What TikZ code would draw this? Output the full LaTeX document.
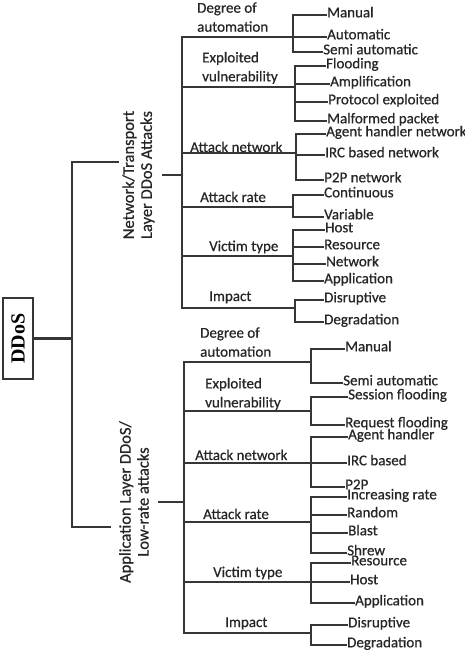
\documentclass[tikz,border=0pt]{standalone}
\usepackage{fontspec}
\setmainfont{Carlito}[FakeBold=0.6]
\newfontfamily\boxfont{Liberation Serif}
\definecolor{ink}{HTML}{262626}
\definecolor{ln}{HTML}{363636}
\newcommand\mkleaf[4]{\node[leaf] (#1) at (#2,#3) {#4};}
\begin{document}
\begin{tikzpicture}[x=1pt,y=-1pt,
  txt/.style={font=\fontsize{15}{19}\selectfont, text=ink, inner sep=0pt},
  leaf/.style={txt, anchor=west, text height=0.66em, text depth=0.2em},
  cat/.style={txt, align=left},
  side/.style={font=\fontsize{16.5}{18}\selectfont, text=ink, rotate=90, align=center, inner sep=0pt},
  wire/.style={draw=ln, line width=1.3pt},
  catwire/.style={draw=ln, line width=1.7pt},
  mainwire/.style={draw=ln, line width=2.6pt}]
\useasboundingbox (0,0) rectangle (465,654);

% root box
\node[draw=ln, line width=2.5pt, minimum width=30pt, minimum height=81pt, inner sep=0pt] (ddos) at (18,338.5)
  {\rotatebox{90}{\boxfont\bfseries\fontsize{20}{20}\selectfont DDoS}};

% two main branches
\node[side] (net) at (138.5,175) {Network/Transport\\Layer DDoS Attacks};
\node[side] (app) at (134,502) {Application Layer DDoS/\\Low-rate attacks};

\coordinate (rootj) at (72,338.5);
\coordinate (spineTop) at (72,162);
\coordinate (spineBot) at (72,527);
\coordinate (netin) at (118,162);
\coordinate (appin) at (110,527);
\draw[mainwire] (ddos.east) -- (rootj);
\draw[mainwire, line cap=rect] (netin) -- (spineTop) -- (spineBot) -- (appin);

% category spines
\coordinate (netout) at (162,175);
\coordinate (tsp) at (182,175);
\coordinate (appout) at (158,502);
\coordinate (bsp) at (184,502);
\draw[catwire] (netout) -- (tsp);
\draw[catwire] (appout) -- (bsp);

% ---- upper taxonomy: categories ----
\node[cat, anchor=south west] (t1) at (197,32) {Degree of\\automation};
\node[cat, anchor=south west] (t2) at (202,84) {Exploited\\vulnerability};
\node[txt, anchor=base west] (t3) at (190,152) {Attack network};
\node[txt, anchor=base west] (t4) at (200,202) {Attack rate};
\node[txt, anchor=base west] (t5) at (209,251) {Victim type};
\node[txt, anchor=base west] (t6) at (209,301) {Impact};

\coordinate (t1j) at (293,37);
\coordinate (t2j) at (295,87);
\coordinate (t3j) at (296,153);
\coordinate (t4j) at (293,207);
\coordinate (t5j) at (293,256);
\coordinate (t6j) at (295,308);
\foreach \j in {t1j,t2j,t3j,t4j,t5j,t6j}
  \draw[catwire] (tsp) |- (\j);

% ---- upper taxonomy: leaves ----
\mkleaf{ta1}{327}{15}{Manual}
\mkleaf{ta2}{327}{37}{Automatic}
\mkleaf{ta3}{323}{52}{Semi automatic}
\mkleaf{tb1}{326}{66}{Flooding}
\mkleaf{tb2}{330}{84}{Amplification}
\mkleaf{tb3}{328}{102}{Protocol exploited}
\mkleaf{tb4}{327}{121}{Malformed packet}
\mkleaf{tc1}{326}{134}{Agent handler network}
\mkleaf{tc2}{325}{155}{IRC based network}
\mkleaf{tc3}{324}{180}{P2P network}
\mkleaf{td1}{324}{195}{Continuous}
\mkleaf{td2}{324}{217}{Variable}
\mkleaf{te1}{325}{230}{Host}
\mkleaf{te2}{324}{247}{Resource}
\mkleaf{te3}{326}{264}{Network}
\mkleaf{te4}{324}{281}{Application}
\mkleaf{tf1}{324}{300}{Disruptive}
\mkleaf{tf2}{324}{322}{Degradation}

\foreach \j/\l in {t1j/ta1,t1j/ta2,t1j/ta3,
                   t2j/tb1,t2j/tb2,t2j/tb3,t2j/tb4,
                   t3j/tc1,t3j/tc2,t3j/tc3,
                   t4j/td1,t4j/td2,
                   t5j/te1,t5j/te2,t5j/te3,t5j/te4,
                   t6j/tf1,t6j/tf2}
  \draw[wire] (\j) |- (\l.west);

% ---- lower taxonomy: categories ----
\node[cat, anchor=south west] (b1) at (200,357) {Degree of\\automation};
\node[cat, anchor=south west] (b2) at (205,410) {Exploited\\vulnerability};
\node[txt, anchor=base west] (b3) at (195,460) {Attack network};
\node[txt, anchor=base west] (b4) at (203,519) {Attack rate};
\node[txt, anchor=base west] (b5) at (213,577) {Victim type};
\node[txt, anchor=base west] (b6) at (225,627) {Impact};

\coordinate (b1j) at (311,362);
\coordinate (b2j) at (311,411);
\coordinate (b3j) at (311,463);
\coordinate (b4j) at (311,522);
\coordinate (b5j) at (311,582);
\coordinate (b6j) at (311,633);
\foreach \j in {b1j,b2j,b3j,b4j,b5j,b6j}
  \draw[catwire] (bsp) |- (\j);

% ---- lower taxonomy: leaves ----
\mkleaf{ba1}{345}{349}{Manual}
\mkleaf{ba2}{343}{383}{Semi automatic}
\mkleaf{bb1}{348}{397}{Session flooding}
\mkleaf{bb2}{345}{425}{Request flooding}
\mkleaf{bc1}{348}{437}{Agent handler}
\mkleaf{bc2}{347}{463}{IRC based}
\mkleaf{bc3}{345}{487}{P2P}
\mkleaf{bd1}{347}{497}{Increasing rate}
\mkleaf{bd2}{347}{515}{Random}
\mkleaf{bd3}{348}{533}{Blast}
\mkleaf{bd4}{347}{553}{Shrew}
\mkleaf{be1}{351}{563}{Resource}
\mkleaf{be2}{350}{582}{Host}
\mkleaf{be3}{355}{603}{Application}
\mkleaf{bf1}{348}{625}{Disruptive}
\mkleaf{bf2}{347}{645}{Degradation}

\foreach \j/\l in {b1j/ba1,b1j/ba2,
                   b2j/bb1,b2j/bb2,
                   b3j/bc1,b3j/bc2,b3j/bc3,
                   b4j/bd1,b4j/bd2,b4j/bd3,b4j/bd4,
                   b5j/be1,b5j/be2,b5j/be3,
                   b6j/bf1,b6j/bf2}
  \draw[wire] (\j) |- (\l.west);
\end{tikzpicture}
\end{document}
